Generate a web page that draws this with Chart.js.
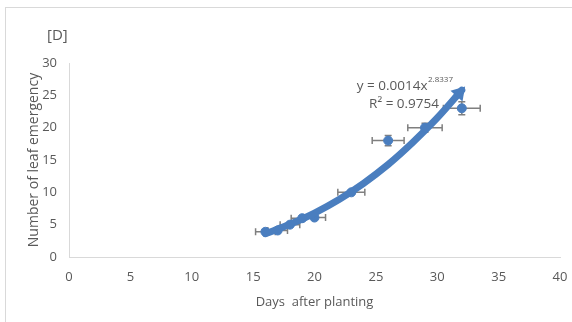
<!DOCTYPE html>
<html>
<head>
<meta charset="utf-8">
<script src="https://cdn.jsdelivr.net/npm/chart.js@4"></script>
<style>
  body { margin: 0; background: #fff; }
  canvas { display: block; }
</style>
</head>
<body>
<canvas id="myChart" width="572" height="322"></canvas>
<script>
// data
const days = [16, 17, 18, 19, 20, 23, 26, 29, 32];
const leaves = [3.9, 4.1, 5.0, 6.0, 6.1, 10.0, 18.0, 20.0, 23.0];
const daysErr = [0.8, 0.8, 0.8, 0.9, 0.9, 1.1, 1.3, 1.4, 1.5];
const leavesErr = [0.3, 0.3, 0.3, 0.3, 0.3, 0.3, 0.8, 0.7, 1.0];

// trendline as drawn
const trendDays = [16, 18, 20, 22, 24, 26, 28, 30, 32];
const trendLeaves = [3.6, 5.05, 6.8, 8.9, 11.4, 14.3, 17.7, 21.5, 25.8];

const xTicks = [0, 5, 10, 15, 20, 25, 30, 35, 40];
const yTicks = [0, 5, 10, 15, 20, 25, 30];

const blue = '#4a7ebf';
const grey = '#595959';
const font = "'Open Sans', sans-serif";

const points = days.map((d, i) => ({ x: d, y: leaves[i] }));
const trend = trendDays.map((d, i) => ({ x: d, y: trendLeaves[i] }));

// error bars, frame, arrow and text
const extras = {
  id: 'extras',
  beforeDraw(chart) {
    const c = chart.ctx;
    c.save();
    c.strokeStyle = '#d9d9d9';
    c.lineWidth = 1;
    c.strokeRect(5.5, 7.5, 600, 400);
    c.restore();
  },
  beforeDatasetsDraw(chart) {
    const c = chart.ctx;
    const xs = chart.scales.x, ys = chart.scales.y;
    c.save();
    c.strokeStyle = '#7f7f7f';
    c.lineWidth = 1.5;
    for (let i = 0; i < days.length; i++) {
      const px = xs.getPixelForValue(days[i]);
      const py = ys.getPixelForValue(leaves[i]);
      const x1 = xs.getPixelForValue(days[i] - daysErr[i]);
      const x2 = xs.getPixelForValue(days[i] + daysErr[i]);
      const y1 = ys.getPixelForValue(leaves[i] - leavesErr[i]);
      const y2 = ys.getPixelForValue(leaves[i] + leavesErr[i]);
      c.beginPath();
      c.moveTo(x1, py); c.lineTo(x2, py);
      c.moveTo(x1, py - 3.5); c.lineTo(x1, py + 3.5);
      c.moveTo(x2, py - 3.5); c.lineTo(x2, py + 3.5);
      c.moveTo(px, y1); c.lineTo(px, y2);
      c.moveTo(px - 3.5, y1); c.lineTo(px + 3.5, y1);
      c.moveTo(px - 3.5, y2); c.lineTo(px + 3.5, y2);
      c.stroke();
    }
    c.restore();
  },
  afterDatasetsDraw(chart) {
    const c = chart.ctx;
    const meta = chart.getDatasetMeta(0);
    const last = meta.data[meta.data.length - 1];
    const prev = meta.data[meta.data.length - 2];
    let dx = last.x - (last.cp1x !== undefined ? last.cp1x : prev.x);
    let dy = last.y - (last.cp1y !== undefined ? last.cp1y : prev.y);
    const len = Math.hypot(dx, dy) || 1;
    dx /= len; dy /= len;
    const tipX = last.x + dx * 5, tipY = last.y + dy * 5;
    const bx = last.x - dx * 8, by = last.y - dy * 8;
    c.save();
    c.fillStyle = blue;
    c.beginPath();
    c.moveTo(tipX, tipY);
    c.lineTo(bx - dy * 8, by + dx * 8);
    c.lineTo(bx + dy * 8, by - dx * 8);
    c.closePath();
    c.fill();

    c.fillStyle = grey;
    c.textBaseline = 'middle';
    c.font = '15px ' + font;
    c.textAlign = 'left';
    c.fillText('[D]', 47, 36);
    // equation, right aligned like the reference
    c.font = '8px ' + font;
    const sw = c.measureText('2.8337').width;
    c.textAlign = 'right';
    c.fillText('2.8337', 453, 80);
    c.font = '13.5px ' + font;
    c.fillText('y = 0.0014x', 453 - sw - 0.5, 86);
    c.fillText('R² = 0.9754', 439, 104);
    c.restore();
  }
};

const ctx = document.getElementById('myChart').getContext('2d');
const myChart = new Chart(ctx, {
  type: 'scatter',
  data: {
    datasets: [{
      type: 'line',
      data: trend,
      borderColor: blue,
      borderWidth: 7,
      borderCapStyle: 'round',
      pointRadius: 0,
      cubicInterpolationMode: 'monotone',
      fill: false
    }, {
      data: points,
      backgroundColor: blue,
      borderColor: blue,
      pointRadius: 4.5
    }]
  },
  plugins: [extras],
  options: {
    responsive: false,
    animation: false,
    layout: { padding: { left: 0, top: 63, right: 12, bottom: 12 } },
    plugins: { legend: { display: false }, tooltip: { enabled: false } },
    scales: {
      x: {
        type: 'linear',
        min: 0, max: 40,
        afterBuildTicks: (s) => { s.ticks = xTicks.map(v => ({ value: v })); },
        afterFit: (s) => { s.height = 53; s.paddingRight = 0; s.paddingLeft = 0; },
        grid: { display: false, drawTicks: false },
        border: { display: true, color: '#d9d9d9', width: 1 },
        ticks: { color: grey, font: { family: font, size: 13 }, padding: 12 },
        title: { display: true, text: 'Days  after planting', color: grey, font: { family: font, size: 13 }, padding: { top: 4, bottom: 0 } }
      },
      y: {
        type: 'linear',
        min: 0, max: 30,
        afterBuildTicks: (s) => { s.ticks = yTicks.map(v => ({ value: v })); },
        afterFit: (s) => { s.width = 69; s.paddingTop = 0; s.paddingBottom = 0; },
        grid: { display: false, drawTicks: false },
        border: { display: true, color: '#d9d9d9', width: 1 },
        ticks: { color: grey, font: { family: font, size: 13 }, padding: 12 },
        title: { display: true, text: 'Number of leaf emergency', color: grey, font: { family: font, size: 14 }, padding: { top: 26 } }
      }
    }
  }
});
</script>
</body>
</html>
